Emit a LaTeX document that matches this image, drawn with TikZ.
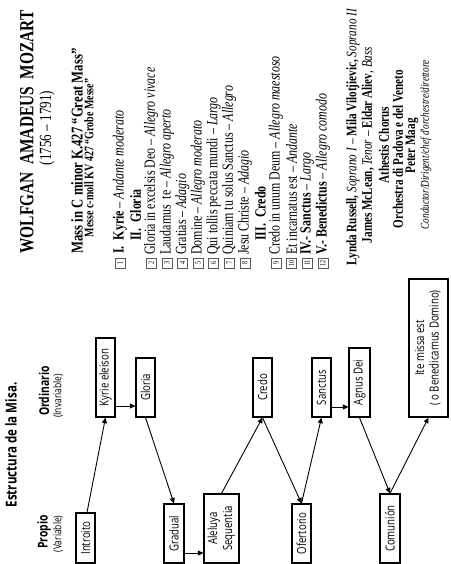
\documentclass[tikz,border=0pt]{standalone}
\usepackage{fontspec}
\usepackage{graphicx}
\usetikzlibrary{arrows.meta}
\newfontfamily\mzserif[FakeStretch=0.77]{Liberation Serif}
\newfontfamily\mzsans[FakeStretch=0.77]{Open Sans}
\newcommand{\fsz}[1]{\fontsize{#1}{#1}\selectfont}
\tikzset{
  mzline/.style={rotate=90, inner sep=0pt, font=\mzserif},
  mzleft/.style={mzline, anchor=west},
  nbox/.style={rotate=90, draw=black!65, line width=0.6pt, minimum width=10pt,
    minimum height=10pt, inner sep=0pt, font=\mzserif\fsz{8}},
  mbox/.style={draw, line width=1.2pt, inner sep=0pt, font=\mzsans\fsz{12.5}},
  lab/.style={rotate=90, inner sep=0pt, font=\mzsans},
  flow/.style={line width=0.9pt, -{Triangle[length=5.5pt,width=5pt]}},
}
\begin{document}
\begin{tikzpicture}[x=1pt,y=-1pt]
\useasboundingbox[fill=white] (0,0) rectangle (450,564);

% ---------- Mozart programme (upper half) ----------
\node[mzline, font=\mzserif\bfseries\fsz{20}] (title) at (27,132) {WOLFGAN\ \ AMADEUS\ \ MOZART};
\node[mzline, font=\mzserif\fsz{17}] (dates) at (47,128) {(1756 – 1791)};
\node[mzline, font=\mzserif\bfseries\fsz{16.5}] (mass) at (77,151) {Mass in C minor K.427 “Great Mass”};
\node[mzline, font=\mzserif\bfseries\fsz{13}] (messe) at (89,158) {Messe c-moll KV 427 “Grobe Messe”};

\node[nbox] (b1) at (120,263) {1};
\node[mzleft, font=\mzserif\fsz{15.5}] (i1) at (120,254) {\textbf{I.\ \ Kyrie} – \textit{Andante moderato}};
\node[mzleft, font=\mzserif\bfseries\fsz{15.5}] (h2) at (135.6,241) {II.\ \ Gloria};
\node[nbox] (b2) at (151.2,263) {2};
\node[mzleft, font=\mzserif\fsz{15.5}] (i2) at (151.2,255) {Gloria in excelsis Deo – \textit{Allegro vivace}};
\node[nbox] (b3) at (166.8,263) {3};
\node[mzleft, font=\mzserif\fsz{15.5}] (i3) at (166.8,255) {Laudamus\ \ te – \textit{Allegro aperto}};
\node[nbox] (b4) at (182.4,263) {4};
\node[mzleft, font=\mzserif\fsz{15.5}] (i4) at (182.4,255) {Gratias – \textit{Adagio}};
\node[nbox] (b5) at (198,263) {5};
\node[mzleft, font=\mzserif\fsz{15.5}] (i5) at (198,255) {Domine – \textit{Allegro moderato}};
\node[nbox] (b6) at (213.6,263) {6};
\node[mzleft, font=\mzserif\fsz{15.5}] (i6) at (213.6,255) {Qui tollis peccata mundi – \textit{Largo}};
\node[nbox] (b7) at (229.2,263) {7};
\node[mzleft, font=\mzserif\fsz{15.5}] (i7) at (229.2,255) {Quiniam tu solus Sanctus – \textit{Allegro}};
\node[nbox] (b8) at (244.8,263) {8};
\node[mzleft, font=\mzserif\fsz{15.5}] (i8) at (244.8,255) {Jesu Christe – \textit{Adagio}};
\node[mzleft, font=\mzserif\bfseries\fsz{15.5}] (h3) at (260.4,241) {III.\ \ Credo};
\node[nbox] (b9) at (276,263) {9};
\node[mzleft, font=\mzserif\fsz{15.5}] (i9) at (276,255) {Credo in unum Deum – \textit{Allegro maestoso}};
\node[nbox] (b10) at (291.6,263) {10};
\node[mzleft, font=\mzserif\fsz{15.5}] (i10) at (291.6,255) {Et incarnatus est – \textit{Andante}};
\node[nbox] (b11) at (307.2,263) {11};
\node[mzleft, font=\mzserif\fsz{15.5}] (i11) at (307.2,255) {\textbf{IV.- Sanctus} – \textit{Largo}};
\node[nbox] (b12) at (322.8,263) {12};
\node[mzleft, font=\mzserif\fsz{15.5}] (i12) at (322.8,255) {\textbf{V.- Benedictus} – \textit{Allegro comodo}};

\node[mzline, font=\mzserif\fsz{14.5}] (p1) at (353,137) {\textbf{Lynda Russell,} \textit{Soprano I} – \textbf{Mila Vilotjievic,} \textit{Soprano II}};
\node[mzline, font=\mzserif\fsz{14.5}] (p2) at (368,145) {\textbf{James McLean,} \textit{Tenor} – \textbf{Eldar Aliev}, \textit{Bass}};
\node[mzline, font=\mzserif\bfseries\fsz{14.5}] (p3) at (384,145) {Athestis Chorus};
\node[mzline, font=\mzserif\bfseries\fsz{14.5}] (p4) at (398,149) {Orchestra di Padova e del Veneto};
\node[mzline, font=\mzserif\bfseries\fsz{14.5}] (p5) at (412,146) {Peter Maag};
\node[mzline, font=\mzserif\itshape\fsz{12}] (p6) at (426,145) {Conductor/Dirigent/chef d'orchestre/direttore};

% ---------- Estructura de la Misa (lower half) ----------
\node[lab, font=\mzsans\bfseries\fsz{15}] (est) at (11,445) {Estructura de la Misa.};
\node[lab, font=\mzsans\bfseries\fsz{13.5}] (prop) at (44,532) {Propio};
\node[lab, font=\mzsans\fsz{11}] (var) at (58,534) {(Variable)};
\node[lab, font=\mzsans\bfseries\fsz{13.5}] (ord) at (44,391) {Ordinario};
\node[lab, font=\mzsans\fsz{11}] (inv) at (58,396) {(Invariable)};

\node[mbox, minimum width=19pt, minimum height=50pt] (intro) at (85.5,538) {\rotatebox{90}{Introito}};
\node[mbox, minimum width=19pt, minimum height=79pt] (kyrie) at (105.5,377.5) {\rotatebox{90}{Kyrie eleison}};
\node[mbox, minimum width=19pt, minimum height=59pt] (gloria) at (145.5,387.5) {\rotatebox{90}{Gloria}};
\node[mbox, minimum width=20pt, minimum height=59pt] (gradual) at (174,533.5) {\rotatebox{90}{Gradual}};
\node[mbox, minimum width=35pt, minimum height=69pt] (aleluya) at (221.5,528.5) {\rotatebox{90}{\fontsize{12.5}{15}\selectfont\begin{tabular}{@{}c@{}}Aleluya\\Sequentia\end{tabular}}};
\node[mbox, minimum width=19pt, minimum height=59pt] (credo) at (262.5,387.5) {\rotatebox{90}{Credo}};
\node[mbox, minimum width=19pt, minimum height=59pt] (ofert) at (301.5,533.5) {\rotatebox{90}{Ofertorio}};
\node[mbox, minimum width=19pt, minimum height=59pt] (sanctus) at (321.5,387.5) {\rotatebox{90}{Sanctus}};
\node[mbox, minimum width=21pt, minimum height=69pt] (agnus) at (359.5,382.5) {\rotatebox{90}{Agnus Dei}};
\node[mbox, minimum width=20pt, minimum height=69pt] (comun) at (390,528.5) {\rotatebox{90}{Comunión}};
\node[mbox, minimum width=39pt, minimum height=138pt] (ite) at (428.5,348) {\rotatebox{90}{\fontsize{12.5}{14.5}\selectfont\begin{tabular}{@{}c@{}}Ite missa est\\( o Benedicamus Domino)\end{tabular}}};

\coordinate (k1) at ([yshift=-28.5pt]kyrie.east);
\coordinate (g1) at ([yshift=-19.5pt]gradual.east);
\coordinate (s1) at ([yshift=-19.5pt]sanctus.east);

\draw[flow] ([xshift=1.5pt]intro.north) -- (kyrie.south);
\draw[flow] (k1) -- (k1 -| gloria.west);
\draw[flow] (gloria.south) -- (gradual.north);
\draw[flow] (g1) -- (g1 -| aleluya.west);
\draw[flow] (aleluya.north) -- (credo.south);
\draw[flow] (credo.south) -- (ofert.north);
\draw[flow] (ofert.north) -- (sanctus.south);
\draw[flow] (s1) -- (s1 -| agnus.west);
\draw[flow] (agnus.south) -- (comun.north);
\draw[flow] (comun.north) -- (ite.south);
\end{tikzpicture}
\end{document}
